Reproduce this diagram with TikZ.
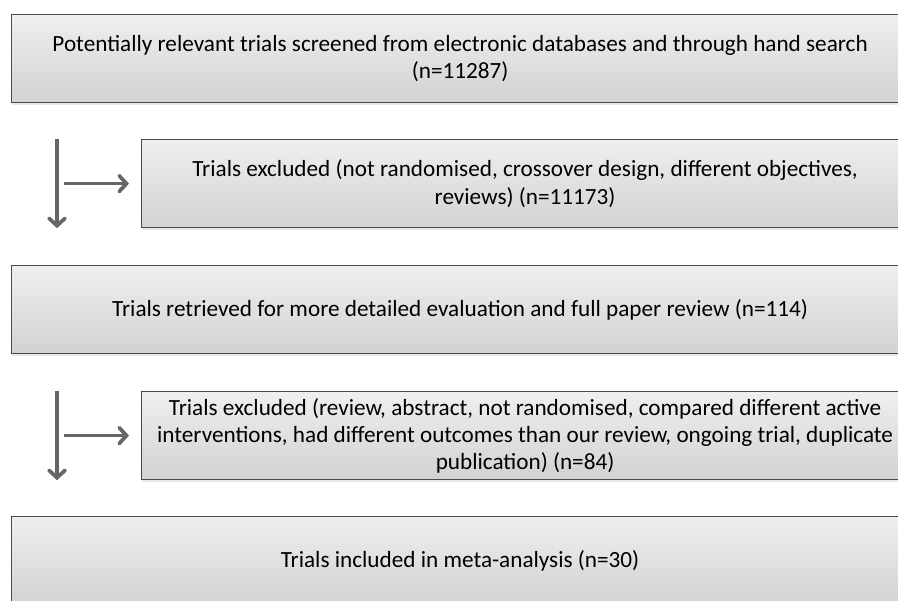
\documentclass[tikz,border=0pt]{standalone}
\usepackage{fontspec}
\setmainfont{Carlito}
\usetikzlibrary{arrows.meta, calc, positioning, shadows}
\definecolor{boxtop}{HTML}{EFEFEF}
\definecolor{boxbot}{HTML}{D2D2D2}
\definecolor{boxline}{HTML}{4A4A4A}
\definecolor{arrgray}{HTML}{666666}

\begin{document}
\begin{tikzpicture}[x=0.75pt, y=-0.75pt,
    stagebox/.style={draw=boxline, line width=0.9pt, top color=boxtop, bottom color=boxbot,
      drop shadow={opacity=0.18, shadow xshift=0pt, shadow yshift=-1.6pt},
      anchor=north west, minimum height=66pt, align=center, inner sep=0pt,
      font=\fontsize{17.4}{20.4}\selectfont},
    flow/.style={arrgray, line width=2.8pt,
      -{Straight Barb[length=5.5pt, width=12pt, line cap=round]}}]
  \useasboundingbox (0,0) rectangle (898,600);
  \clip (0,0) rectangle (898,600);
  \coordinate (lane) at (57,0);
  \node[stagebox, minimum width=672.75pt] (screened) at (11,14)
    {Potentially relevant trials screened from electronic databases and through hand search\\(n=11287)};
  \node[stagebox, minimum width=575.25pt] (excl1) at (141,139)
    {Trials excluded (not randomised, crossover design, different objectives,\\reviews) (n=11173)};
  \node[stagebox, minimum width=672.75pt] (retrieved) at (11,265)
    {Trials retrieved for more detailed evaluation and full paper review (n=114)};
  \node[stagebox, minimum width=575.25pt] (excl2) at (141,391)
    {Trials excluded (review, abstract, not randomised, compared different active\\interventions, had different outcomes than our review, ongoing trial, duplicate\\publication) (n=84)};
  \node[stagebox, minimum width=672.75pt] (included) at (11,516)
    {Trials included in meta-analysis (n=30)};
  \foreach \b in {excl1, excl2}
    {\draw[flow] (\b.north -| lane) -- (\b.south -| lane);
     \draw[flow, shorten >=9pt] ($(\b.west -| lane)+(7,0)$) -- (\b.west);}
\end{tikzpicture}
\end{document}
